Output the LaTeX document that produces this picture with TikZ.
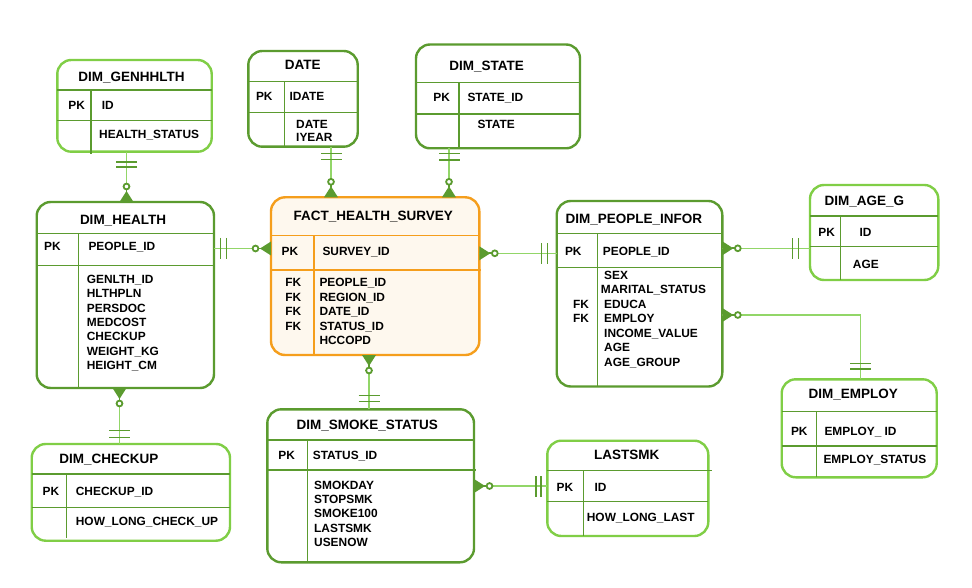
\documentclass[tikz,border=0pt]{standalone}
\usepackage{fontspec}
\setmainfont{Liberation Sans}
\usetikzlibrary{calc}
\definecolor{dkg}{RGB}{91,155,47}
\definecolor{ltg}{RGB}{128,206,70}
\definecolor{lng}{RGB}{146,214,104}
\definecolor{org}{RGB}{245,158,28}
\definecolor{crm}{RGB}{254,248,238}
\newcommand{\fldf}{\fontsize{11.9}{14}\selectfont\bfseries}
\newcommand{\ttlf}{\fontsize{13.5}{16}\selectfont\bfseries}
% crow's foot: point, dx, dy (direction away from the entity)
\newcommand{\crowft}[3]{%
  \fill[dkg] ($(#1)+({7*(#3)},{-7*(#2)})$) -- ($(#1)+({11*(#2)},{11*(#3)})$) -- ($(#1)+({-7*(#3)},{7*(#2)})$) -- cycle;
  \draw[dkg, line width=1.7pt] ($(#1)+({10*(#2)},{10*(#3)})$) -- ($(#1)+({13*(#2)},{13*(#3)})$);
  \draw[dkg, line width=1.8pt, fill=white] ($(#1)+({15.5*(#2)},{15.5*(#3)})$) circle (2.9);
}
% two bars: point, dx, dy, d1, d2
\newcommand{\onebars}[5]{%
  \foreach \d in {#4,#5}
    \draw[bar] ($(#1)+({\d*(#2)+10.5*(#3)},{\d*(#3)-10.5*(#2)})$) -- ($(#1)+({\d*(#2)-10.5*(#3)},{\d*(#3)+10.5*(#2)})$);
}
\begin{document}
\begin{tikzpicture}[x=1pt,y=-1pt,
 tbl/.style={draw, line width=2.4pt, rounded corners=14pt, anchor=north west, inner sep=0pt, outer sep=0pt, fill=white},
 div/.style={draw=dkg, line width=1.3pt},
 odiv/.style={draw=org, line width=1.3pt},
 ttl/.style={font=\ttlf, anchor=base, inner sep=0pt, yshift=-4.8pt},
 pk/.style={font=\fldf, anchor=base, inner sep=0pt, yshift=-4.2pt},
 fld/.style={font=\fldf, anchor=base west, inner sep=0pt, yshift=-4.2pt},
 conn/.style={draw=lng, line width=1.4pt},
 bar/.style={draw=dkg, line width=1.4pt}]
\fill[white] (0,0) rectangle (972,588);
\useasboundingbox (0,0) rectangle (972,588);

% DIM_GENHHLTH
\node[tbl, draw=ltg, minimum width=154.4pt, minimum height=91.7pt] (genh) at (57.3,60) {};
\draw[div] (genh.west |- 0,90) -- (genh.east |- 0,90);
\draw[div] (genh.west |- 0,120.7) -- (genh.east |- 0,120.7);
\draw[div] (91,90) -- (91,154);
\node[ttl] (genh-t) at (131.5,76.7) {DIM\_GENHHLTH};
\node[pk] (genh-pk) at (76.7,105.7) {PK};
\node[fld] (genh-f1) at (101.7,105.7) {ID};
\node[fld] (genh-f2) at (99,134) {HEALTH\_STATUS};

% DIM_HEALTH
\node[tbl, draw=dkg, minimum width=177.3pt, minimum height=186pt] (health) at (36.7,202) {};
\draw[div] (health.west |- 0,233.3) -- (health.east |- 0,233.3);
\draw[div] (health.west |- 0,265.7) -- (health.east |- 0,265.7);
\draw[div] (78.3,233.3) -- (78.3,388);
\node[ttl] (health-t) at (123,220) {DIM\_HEALTH};
\node[pk] (health-pk) at (52.5,246.7) {PK};
\node[fld] (health-id) at (88.3,246.7) {PEOPLE\_ID};
\foreach \t [count=\i from 0] in {GENLTH\_ID,HLTHPLN,PERSDOC,MEDCOST,CHECKUP,WEIGHT\_KG,HEIGHT\_CM}
  \node[fld] (health-f\i) at (86.7,279+14.4*\i) {\t};

% DIM_CHECKUP
\node[tbl, draw=ltg, minimum width=198.3pt, minimum height=96.7pt] (checkup) at (31.7,444) {};
\draw[div] (checkup.west |- 0,474) -- (checkup.east |- 0,474);
\draw[div] (checkup.west |- 0,507.7) -- (checkup.east |- 0,507.7);
\draw[div] (66.7,474) -- (66.7,538);
\node[ttl] (checkup-t) at (109,458.3) {DIM\_CHECKUP};
\node[pk] (checkup-pk) at (51,491.7) {PK};
\node[fld] (checkup-f1) at (75.7,491.7) {CHECKUP\_ID};
\node[fld] (checkup-f2) at (75.7,521) {HOW\_LONG\_CHECK\_UP};

% DATE
\node[tbl, draw=dkg, minimum width=109.4pt, minimum height=95.7pt] (date) at (248.3,51) {};
\draw[div] (date.west |- 0,81.7) -- (date.east |- 0,81.7);
\draw[div] (date.west |- 0,112.3) -- (date.east |- 0,112.3);
\draw[div] (284.3,81.7) -- (284.3,146.7);
\node[ttl] (date-t) at (302.7,65) {DATE};
\node[pk] (date-pk) at (264.3,96) {PK};
\node[fld] (date-f1) at (289.3,96) {IDATE};
\node[fld] (date-f2) at (296,124) {DATE};
\node[fld] (date-f3) at (296,137.3) {IYEAR};

% DIM_STATE
\node[tbl, draw=dkg, minimum width=164pt, minimum height=103.8pt] (state) at (416,44.5) {};
\draw[div] (state.west |- 0,82.7) -- (state.east |- 0,82.7);
\draw[div] (state.west |- 0,114) -- (state.east |- 0,114);
\draw[div] (459,82.7) -- (459,148.3);
\node[ttl] (state-t) at (486.7,65.7) {DIM\_STATE};
\node[pk] (state-pk) at (441.7,97.7) {PK};
\node[fld] (state-f1) at (467.3,97.7) {STATE\_ID};
\node[fld] (state-f2) at (477.3,124) {STATE};

% FACT_HEALTH_SURVEY
\node[tbl, draw=org, fill=crm, minimum width=208.3pt, minimum height=157.7pt] (fact) at (271,197.3) {};
\draw[odiv] (fact.west |- 0,235.7) -- (fact.east |- 0,235.7);
\draw[odiv] (fact.west |- 0,270) -- (481,270);
\draw[odiv] (314,235.7) -- (314,355);
\node[ttl] (fact-t) at (373.3,216) {FACT\_HEALTH\_SURVEY};
\node[pk] (fact-pk) at (290,251.7) {PK};
\node[fld] (fact-id) at (322.3,251.7) {SURVEY\_ID};
\foreach \i in {0,...,3}
  \node[pk] (fact-fk\i) at (293.3,282.3+14.6*\i) {FK};
\foreach \t [count=\i from 0] in {PEOPLE\_ID,REGION\_ID,DATE\_ID,STATUS\_ID,HCCOPD}
  \node[fld] (fact-f\i) at (319.3,282.3+14.6*\i) {\t};

% DIM_SMOKE_STATUS
\node[tbl, draw=dkg, minimum width=206.7pt, minimum height=153pt] (smoke) at (267.3,409.3) {};
\draw[div] (smoke.west |- 0,440) -- (smoke.east |- 0,440);
\draw[div] (smoke.west |- 0,470) -- (476,470);
\draw[div] (307.3,440) -- (307.3,562.3);
\node[ttl] (smoke-t) at (367.3,425) {DIM\_SMOKE\_STATUS};
\node[pk] (smoke-pk) at (286.7,455) {PK};
\node[fld] (smoke-id) at (312.7,455) {STATUS\_ID};
\foreach \t [count=\i from 0] in {SMOKDAY,STOPSMK,SMOKE100,LASTSMK,USENOW}
  \node[fld] (smoke-f\i) at (314,485+14.3*\i) {\t};

% LASTSMK
\node[tbl, draw=ltg, minimum width=161pt, minimum height=95.3pt] (lastsmk) at (547.3,440.7) {};
\draw[div] (lastsmk.west |- 0,470.7) -- (711.7,470.7);
\draw[div] (lastsmk.west |- 0,501.7) -- (lastsmk.east |- 0,501.7);
\draw[div] (583.3,470.7) -- (583.3,536);
\node[ttl] (lastsmk-t) at (626.7,455) {LASTSMK};
\node[pk] (lastsmk-pk) at (565,487.3) {PK};
\node[fld] (lastsmk-f1) at (594.3,487.3) {ID};
\node[fld] (lastsmk-f2) at (586.7,517.3) {HOW\_LONG\_LAST};

% DIM_PEOPLE_INFOR
\node[tbl, draw=dkg, minimum width=165.6pt, minimum height=185.5pt] (people) at (556.7,201) {};
\draw[div] (people.west |- 0,233.3) -- (people.east |- 0,233.3);
\draw[div] (people.west |- 0,267.3) -- (people.east |- 0,267.3);
\draw[div] (597.7,233.3) -- (597.7,386.5);
\node[ttl] (people-t) at (633.8,218.3) {DIM\_PEOPLE\_INFOR};
\node[pk] (people-pk) at (573.3,251.7) {PK};
\node[fld] (people-id) at (602.7,251.7) {PEOPLE\_ID};
\node[fld] (people-f0) at (604,275.7) {SEX};
\node[fld] (people-f1) at (600.7,289.3) {MARITAL\_STATUS};
\node[fld] (people-f2) at (604,304.3) {EDUCA};
\node[fld] (people-f3) at (604,318.3) {EMPLOY};
\node[fld] (people-f4) at (604,333.3) {INCOME\_VALUE};
\node[fld] (people-f5) at (604,347.7) {AGE};
\node[fld] (people-f6) at (604,362.3) {AGE\_GROUP};
\node[pk] (people-fk1) at (581,304.3) {FK};
\node[pk] (people-fk2) at (581,318.3) {FK};

% DIM_AGE_G
\node[tbl, draw=ltg, minimum width=128.3pt, minimum height=95pt] (ageg) at (810,185) {};
\draw[div] (ageg.west |- 0,216) -- (ageg.east |- 0,216);
\draw[div] (ageg.west |- 0,246.7) -- (ageg.east |- 0,246.7);
\draw[div] (840.7,216) -- (840.7,280);
\node[ttl] (ageg-t) at (864.3,200.7) {DIM\_AGE\_G};
\node[pk] (ageg-pk) at (826.7,232.3) {PK};
\node[fld] (ageg-f1) at (859.3,232.3) {ID};
\node[fld] (ageg-f2) at (852.7,264) {AGE};

% DIM_EMPLOY
\node[tbl, draw=ltg, minimum width=155pt, minimum height=98pt] (employ) at (781.7,379.3) {};
\draw[div] (employ.west |- 0,411.7) -- (employ.east |- 0,411.7);
\draw[div] (employ.west |- 0,446) -- (employ.east |- 0,446);
\draw[div] (816.7,411.7) -- (816.7,477.3);
\node[ttl] (employ-t) at (853.3,394) {DIM\_EMPLOY};
\node[pk] (employ-pk) at (799.3,431.7) {PK};
\node[fld] (employ-f1) at (824.3,431.7) {EMPLOY\_ ID};
\node[fld] (employ-f2) at (823.3,459) {EMPLOY\_STATUS};

% ---- connectors ----
\coordinate (a1) at (genh.south -| 126.5,0);
\coordinate (a2) at (health.north -| 126.5,0);
\draw[conn] (a1) -- (a2);
\onebars{a1}{0}{1}{10.3}{15.3}
\crowft{a2}{0}{-1}

\coordinate (b1) at (date.south -| 331,0);
\coordinate (b2) at (fact.north -| 331,0);
\draw[conn] (b1) -- (b2);
\onebars{b1}{0}{1}{6.6}{12.6}
\crowft{b2}{0}{-1}

\coordinate (c1) at (state.south -| 449,0);
\coordinate (c2) at (fact.north -| 449,0);
\draw[conn] (c1) -- (c2);
\onebars{c1}{0}{1}{5.2}{11.7}
\crowft{c2}{0}{-1}

\coordinate (d1) at (health.east |- 0,248.5);
\coordinate (d2) at (fact.west |- 0,248.5);
\draw[conn] (d1) -- (d2);
\onebars{d1}{1}{0}{6.5}{12.5}
\crowft{d2}{-1}{0}

\coordinate (e1) at (people.west |- 0,253.3);
\coordinate (e2) at (fact.east |- 0,253.3);
\draw[conn] (e1) -- (e2);
\onebars{e1}{-1}{0}{9}{15}
\crowft{e2}{1}{0}

\coordinate (f1) at (smoke.north -| 369,0);
\coordinate (f2) at (fact.south -| 369,0);
\draw[conn] (f1) -- (f2);
\onebars{f1}{0}{-1}{7.6}{13.6}
\crowft{f2}{0}{1}

\coordinate (g1) at (checkup.north -| 119.5,0);
\coordinate (g2) at (health.south -| 119.5,0);
\draw[conn] (g1) -- (g2);
\onebars{g1}{0}{-1}{6.7}{13.3}
\crowft{g2}{0}{1}

\coordinate (h1) at (lastsmk.west |- 0,486);
\coordinate (h2) at (smoke.east |- 0,486);
\draw[conn] (h1) -- (h2);
\onebars{h1}{-1}{0}{6.3}{11.3}
\crowft{h2}{1}{0}

\coordinate (i1) at (ageg.west |- 0,248.3);
\coordinate (i2) at (people.east |- 0,248.3);
\draw[conn] (i1) -- (i2);
\onebars{i1}{-1}{0}{11.7}{17.3}
\crowft{i2}{1}{0}

\coordinate (j1) at (employ.north -| 860.7,0);
\coordinate (j2) at (people.east |- 0,315);
\draw[conn] (j2) -| (j1);
\onebars{j1}{0}{-1}{10.3}{16}
\crowft{j2}{1}{0}
\end{tikzpicture}
\end{document}
